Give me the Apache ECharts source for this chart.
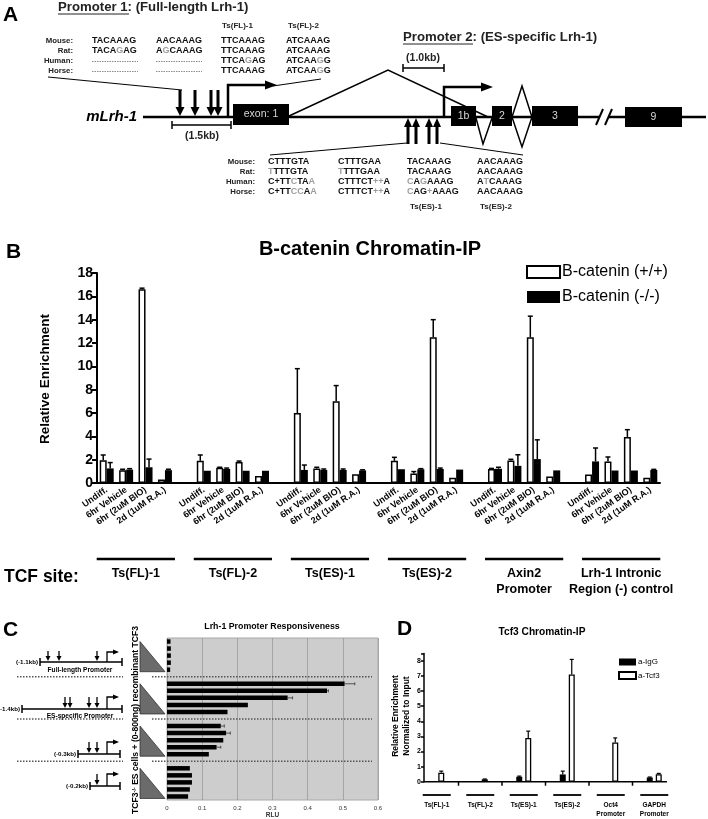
<!DOCTYPE html>
<html><head><meta charset="utf-8">
<script src="https://cdn.jsdelivr.net/npm/echarts/dist/echarts.min.js"></script>
<style>html,body{margin:0;padding:0;background:#fff}#chart{width:708px;height:819px}</style>
</head><body><div id="chart"></div>
<script>
// ---------- Panel B data: B-catenin Chromatin-IP ----------
const bSites = ['Ts(FL)-1', 'Ts(FL)-2', 'Ts(ES)-1', 'Ts(ES)-2', 'Axin2\nPromoter', 'Lrh-1 Intronic\nRegion (-) control'];
const bConditions = ['Undiff.', '6hr Vehicle', '6hr (2uM BIO)', '2d (1uM R.A.)'];
const bWildType    = [1.95, 1.1, 16.6, 0.3,  1.9, 1.3, 1.8, 0.6,   6.0, 1.25, 7.0, 0.75,  1.9, 0.82, 12.5, 0.44,  1.2, 1.93, 12.5, 0.55,  0.72, 1.85, 3.95, 0.44];
const bWildTypeErr = [0.45, 0.08, 0.1, 0,    0.5, 0.05, 0.08, 0,   3.8, 0.1, 1.35, 0,     0.3, 0.16, 1.5, 0,      0.05, 0.1, 1.8, 0,    0, 0.38, 0.62, 0];
const bKnockout    = [1.25, 1.15, 1.35, 1.1, 1.05, 1.2, 1.05, 1.05, 1.12, 1.12, 1.12, 1.08, 1.18, 1.18, 1.2, 1.15, 1.22, 1.47, 2.05, 1.08, 1.85, 1.07, 1.07, 1.12];
const bKnockoutErr = [0.5, 0.08, 0.7, 0.08,  0, 0.08, 0, 0,        0.42, 0.08, 0.08, 0.05, 0, 0.05, 0.08, 0,      0.13, 0.95, 1.65, 0,  1.15, 0, 0, 0.05];
const bYTicks = {min: 0, max: 18, step: 2};

// ---------- Panel C data: Lrh-1 Promoter Responsiveness ----------
const cConstructs = ['(-1.1kb) Full-length Promoter', '(-1.4kb) ES-specific Promoter', '(-0.3kb)', '(-0.2kb)'];
const cDoses = ['dose 1', 'dose 2', 'dose 3', 'dose 4', 'dose 5'];
const cRLU    = [0.010, 0.011, 0.011, 0.011, 0.009,  0.505, 0.455, 0.343, 0.230, 0.172,  0.153, 0.168, 0.160, 0.141, 0.119,  0.065, 0.071, 0.071, 0.065, 0.060];
const cRLUErr = [0, 0, 0, 0, 0,                      0.029, 0.004, 0.014, 0, 0,          0.010, 0.012, 0, 0.012, 0,          0, 0, 0, 0, 0];
const cXTicks = {min: 0, max: 0.6, step: 0.1};

// ---------- Panel D data: Tcf3 Chromatin-IP ----------
const dSites = ['Ts(FL)-1', 'Ts(FL)-2', 'Ts(ES)-1', 'Ts(ES)-2', 'Oct4\nPromoter', 'GAPDH\nPromoter'];
const dIgG     = [0, 0, 0.33, 0.48, 0, 0.28];
const dIgGErr  = [0, 0, 0.04, 0.22, 0, 0.03];
const dTcf3    = [0.6, 0.16, 2.9, 7.1, 2.6, 0.5];
const dTcf3Err = [0.1, 0.02, 0.45, 1.0, 0.3, 0.05];
const dYTicks = {min: 0, max: 8.5, step: 1};

// ---------- helpers ----------
const FAM = "'Liberation Sans', Arial, Helvetica, sans-serif";
const f = (size, weight, style) => `${style || 'normal'} ${weight || 'bold'} ${size}px ${FAM}`;

function withGaps(vals, per, groups) {
  const out = [];
  for (let g = 0; g < groups; g++) {
    for (let k = 0; k < per; k++) out.push(vals[g * per + k]);
    if (g < groups - 1) out.push('-');
  }
  return out;
}
function errData(vals, errs, per, vertical) {
  const out = [];
  vals.forEach((v, i) => {
    const e = errs[i];
    if (!e) return;
    const idx = Math.floor(i / per) * (per + 1) + (i % per);
    out.push(vertical ? [idx, v, e] : [v, idx, e]);
  });
  return out;
}
function vErr(offset, cap, lw) {
  return (params, api) => {
    const i = api.value(0), v = api.value(1), e = api.value(2);
    const b = api.coord([i, v]), t = api.coord([i, v + e]);
    const x = b[0] + offset;
    return {type: 'group', children: [
      {type: 'line', shape: {x1: x, y1: b[1], x2: x, y2: t[1]}, style: {stroke: '#000', lineWidth: lw}},
      {type: 'line', shape: {x1: x - cap / 2, y1: t[1], x2: x + cap / 2, y2: t[1]}, style: {stroke: '#000', lineWidth: lw}}
    ]};
  };
}
function hErr(cap, lw) {
  return (params, api) => {
    const v = api.value(0), i = api.value(1), e = api.value(2);
    const b = api.coord([v, i]), t = api.coord([v + e, i]);
    return {type: 'group', children: [
      {type: 'line', shape: {x1: b[0], y1: b[1], x2: t[0], y2: b[1]}, style: {stroke: '#333', lineWidth: lw}},
      {type: 'line', shape: {x1: t[0], y1: b[1] - cap / 2, x2: t[0], y2: b[1] + cap / 2}, style: {stroke: '#333', lineWidth: lw}}
    ]};
  };
}

// categories
const bCats = [];
bSites.forEach((s, g) => {
  bConditions.forEach(c => bCats.push(g + '|' + c));
  if (g < bSites.length - 1) bCats.push(g + '|');
});
const cCats = [];
cConstructs.forEach((s, g) => {
  cDoses.forEach(d => cCats.push(s + '|' + d));
  if (g < cConstructs.length - 1) cCats.push('gap' + g + '|');
});

const chart = echarts.init(document.getElementById('chart'));
const option = {
  animation: false,
  backgroundColor: '#fff',
  textStyle: {fontFamily: FAM, color: '#000'},
  grid: [
    {left: 97, top: 273, width: 563, height: 210, outerBoundsMode: 'none', containLabel: false},
    {left: 167, top: 638, width: 211, height: 162, show: true, backgroundColor: '#cdcdcd', borderColor: '#a8a8a8', borderWidth: 1, outerBoundsMode: 'none', containLabel: false},
    {left: 415, top: 653.4, width: 261, height: 128.3, outerBoundsMode: 'none', containLabel: false}
  ],
  legend: [
    {data: ['B-catenin (+/+)', 'B-catenin (-/-)'], orient: 'vertical', left: 526, top: 264, padding: 0, icon: 'rect',
     itemWidth: 33, itemHeight: 12, itemGap: 9, textStyle: {fontSize: 16, fontFamily: FAM, color: '#000', padding: [0, 0, 0, -3]}},
    {data: ['a-IgG', 'a-Tcf3'], orient: 'vertical', left: 618, top: 658, padding: 0, icon: 'rect',
     itemWidth: 17, itemHeight: 7, itemGap: 5, textStyle: {fontSize: 8, fontFamily: FAM, color: '#000', padding: [0, 0, 0, -3]}}
  ],
  xAxis: [
    {type: 'category', gridIndex: 0, data: bCats,
     axisLine: {lineStyle: {color: '#000', width: 2}},
     axisTick: {alignWithLabel: true, interval: 0, length: 5, lineStyle: {color: '#000', width: 2}},
     axisLabel: {interval: 0, rotate: 35, margin: 6, fontSize: 9, fontWeight: 'bold', color: '#000', fontFamily: FAM,
                 formatter: v => v.split('|')[1]}},
    {type: 'value', gridIndex: 1, min: cXTicks.min, max: cXTicks.max, interval: cXTicks.step,
     axisLine: {show: false}, axisTick: {show: false},
     axisLabel: {fontSize: 6, color: '#333', margin: 5, fontFamily: FAM, formatter: v => String(+v.toFixed(1))},
     splitLine: {show: true, lineStyle: {color: '#9a9a9a', width: 0.8}},
     name: 'RLU', nameLocation: 'middle', nameGap: 12, nameTextStyle: {fontSize: 6.5, fontWeight: 'bold', color: '#333', fontFamily: FAM}},
    {type: 'category', gridIndex: 2, data: dSites, axisLine: {show: false}, axisTick: {show: false}, axisLabel: {show: false}}
  ],
  yAxis: [
    {type: 'value', gridIndex: 0, min: bYTicks.min, max: bYTicks.max, interval: bYTicks.step,
     axisLine: {show: true, lineStyle: {color: '#000', width: 2}},
     axisTick: {show: true, length: 5, lineStyle: {color: '#000', width: 2}},
     axisLabel: {fontSize: 14, fontWeight: 'bold', color: '#000', margin: 4, fontFamily: FAM},
     splitLine: {show: false}},
    {type: 'category', gridIndex: 1, data: cCats, inverse: true,
     axisLine: {show: false}, axisTick: {show: false}, axisLabel: {show: false}, splitLine: {show: false}},
    {type: 'value', gridIndex: 2, min: dYTicks.min, max: dYTicks.max, interval: dYTicks.step, offset: -9,
     axisLine: {show: true, lineStyle: {color: '#000', width: 1.5}},
     axisTick: {show: true, length: 3, lineStyle: {color: '#000', width: 1.5}},
     axisLabel: {fontSize: 7, fontWeight: 'bold', color: '#000', margin: 3, fontFamily: FAM,
                 formatter: v => (v % 1 ? '' : String(v))},
     splitLine: {show: false}}
  ],
  series: [
    {type: 'bar', name: 'B-catenin (+/+)', xAxisIndex: 0, yAxisIndex: 0, data: withGaps(bWildType, 4, 6),
     barWidth: 7, barGap: '0%', itemStyle: {color: '#fff', borderColor: '#000', borderWidth: 1.5}},
    {type: 'bar', name: 'B-catenin (-/-)', xAxisIndex: 0, yAxisIndex: 0, data: withGaps(bKnockout, 4, 6),
     barWidth: 7, barGap: '0%', itemStyle: {color: '#000', borderColor: '#000', borderWidth: 0}},
    {type: 'custom', xAxisIndex: 0, yAxisIndex: 0, data: errData(bWildType, bWildTypeErr, 4, true),
     encode: {x: 0, y: 1}, renderItem: vErr(-3.5, 5, 1.5), z: 5},
    {type: 'custom', xAxisIndex: 0, yAxisIndex: 0, data: errData(bKnockout, bKnockoutErr, 4, true),
     encode: {x: 0, y: 1}, renderItem: vErr(3.5, 5, 1.5), z: 5},

    {type: 'bar', name: 'RLU', xAxisIndex: 1, yAxisIndex: 1, data: withGaps(cRLU, 5, 4),
     barWidth: 4.5, itemStyle: {color: '#000'}},
    {type: 'custom', xAxisIndex: 1, yAxisIndex: 1, data: errData(cRLU, cRLUErr, 5, false),
     encode: {x: 0, y: 1}, renderItem: hErr(3, 0.8), z: 5},

    {type: 'bar', name: 'a-IgG', xAxisIndex: 2, yAxisIndex: 2, data: dIgG,
     barWidth: 6, barGap: '50%', itemStyle: {color: '#000'}},
    {type: 'bar', name: 'a-Tcf3', xAxisIndex: 2, yAxisIndex: 2, data: dTcf3,
     barWidth: 6, barGap: '50%', itemStyle: {color: '#fff', borderColor: '#000', borderWidth: 1.3}},
    {type: 'custom', xAxisIndex: 2, yAxisIndex: 2, data: dIgG.map((v, i) => [i, v, dIgGErr[i]]).filter(d => d[2]),
     encode: {x: 0, y: 1}, renderItem: vErr(-4.5, 4, 1.2), z: 5},
    {type: 'custom', xAxisIndex: 2, yAxisIndex: 2, data: dTcf3.map((v, i) => [i, v, dTcf3Err[i]]).filter(d => d[2]),
     encode: {x: 0, y: 1}, renderItem: vErr(4.5, 4, 1.2), z: 5}
  ]
};
chart.setOption(option);

// ---------- decorations (diagrams, labels) ----------
const G = [];
const Z = 50;
function ln(x1, y1, x2, y2, w, color, dash) {
  G.push({type: 'line', z: Z, silent: true, shape: {x1, y1, x2, y2}, style: {stroke: color || '#000', lineWidth: w || 1, lineDash: dash || null}});
}
function pl(points, w, color, closed) {
  G.push({type: closed ? 'polygon' : 'polyline', z: Z, silent: true, shape: {points},
          style: {stroke: color || '#000', lineWidth: w || 1, fill: null}});
}
function pg(points, fill, stroke, w) {
  G.push({type: 'polygon', z: Z, silent: true, shape: {points}, style: {fill, stroke: stroke || null, lineWidth: w || 0}});
}
function rc(x, y, w, h, fill) {
  G.push({type: 'rect', z: Z, silent: true, shape: {x, y, width: w, height: h}, style: {fill}});
}
function tx(x, y, text, font, opt) {
  opt = opt || {};
  const st = {text, font, fill: opt.fill || '#000', align: opt.align || 'left', verticalAlign: opt.va || 'middle',
              textAlign: opt.align || 'left', textVerticalAlign: opt.va || 'middle'};
  if (opt.rich) st.rich = opt.rich;
  if (opt.lineHeight) st.lineHeight = opt.lineHeight;
  G.push({type: 'text', z: Z + 1, silent: true, x, y, rotation: opt.rot || 0, style: st});
}
function downArrow(x, y1, y2, w, hw, hh) {
  ln(x, y1, x, y2 - hh + 1, w);
  pg([[x - hw / 2, y2 - hh], [x + hw / 2, y2 - hh], [x, y2]], '#000');
}
function upArrow(x, y1, y2, w, hw, hh) { // y1 bottom, y2 tip (smaller)
  ln(x, y1, x, y2 + hh - 1, w);
  pg([[x - hw / 2, y2 + hh], [x + hw / 2, y2 + hh], [x, y2]], '#000');
}
function bentArrow(x, yb, yt, xe, w, hw, hl) {
  pl([[x, yb], [x, yt], [xe - hl + 1, yt]], w);
  pg([[xe - hl, yt - hw / 2], [xe - hl, yt + hw / 2], [xe, yt]], '#000');
}
function seq(str) {
  let out = '';
  str.split(/(\[[^\]]*\])/).forEach(p => {
    if (!p) return;
    out += p[0] === '[' ? '{g|' + p.slice(1, -1) + '}' : '{n|' + p + '}';
  });
  return out;
}
const SEQF = f(9);
const seqRich = {n: {fill: '#111', font: SEQF}, g: {fill: '#9d9d9d', font: SEQF}};

// ----- Panel A -----
tx(3, 15, 'A', f(21), {});
tx(58, 7, 'Promoter 1: (Full-length Lrh-1)', f(13.2), {fill: '#222'});
ln(58, 14, 129, 14, 1, '#222');
tx(403, 37, 'Promoter 2: (ES-specific Lrh-1)', f(13.2), {fill: '#222'});
ln(403, 44, 473, 44, 1, '#222');

const speciesLbl = ['Mouse:', 'Rat:', 'Human:', 'Horse:'];
const topRows = [41, 51, 61, 71];
const topCols = [92, 156, 221, 286];
const topSeq = [
  ['TACAAAG', 'AACAAAG', 'TTCAAAG', 'ATCAAAG'],
  ['TACA[G]AG', 'A[G]CAAAG', 'TTCAAAG', 'ATCAAAG'],
  [null, null, 'TTCA[G]AG', 'ATCAA[G]G'],
  [null, null, 'TTCAAAG', 'ATCAA[G]G']
];
speciesLbl.forEach((s, r) => {
  tx(73, topRows[r], s, f(7.8), {align: 'right', fill: '#222'});
  topSeq[r].forEach((q, c) => {
    if (q) tx(topCols[c], topRows[r], seq(q), SEQF, {rich: seqRich});
    else ln(topCols[c], topRows[r] + 0.5, topCols[c] + 46, topRows[r] + 0.5, 1, '#8a8a8a', [1.5, 1]);
  });
});
tx(222, 26, 'Ts(FL)-1', f(8), {fill: '#222'});
tx(288, 26, 'Ts(FL)-2', f(8), {fill: '#222'});

const lowRows = [162, 172, 182, 192];
const lowCols = [268, 338, 407, 477];
const lowSeq = [
  ['CTTTGTA', 'CTTTGAA', 'TACAAAG', 'AACAAAG'],
  ['[T]TTTGTA', '[T]TTTGAA', 'TACAAAG', 'AACAAAG'],
  ['C+TT[C]TA[A]', 'CTTTCT[++]A', '[C]A[G]AAAG', 'A[T]CAAAG'],
  ['C+TT[CC]A[A]', 'CTTTCT[++]A', '[C]AG[+]AAAG', 'AACAAAG']
];
speciesLbl.forEach((s, r) => {
  tx(255, lowRows[r], s, f(7.8), {align: 'right', fill: '#222'});
  lowSeq[r].forEach((q, c) => tx(lowCols[c], lowRows[r], seq(q), SEQF, {rich: seqRich}));
});
tx(410, 207, 'Ts(ES)-1', f(8), {fill: '#222'});
tx(480, 207, 'Ts(ES)-2', f(8), {fill: '#222'});

// connector lines
ln(48, 77, 182, 90, 1);
ln(321, 79, 273, 86, 1);
ln(270, 155, 407, 143, 1);
ln(440, 143, 523, 155, 1);
// gene line
ln(143, 117, 599, 117, 2.5);
ln(609, 117, 706, 117, 2.5);
ln(596, 125, 603, 109, 2);
ln(605, 125, 612, 109, 2);
// splicing
pl([[289, 116], [388, 70], [488, 117]], 1.5);
pl([[476, 118], [483, 144], [492, 118]], 1.5);
pl([[512, 117], [522, 86], [532, 117], [522, 147]], 1.5, '#000', true);
// exons
const exons = [[233, 104, 56, 21, 'exon: 1'], [451, 106, 25, 20, '1b'], [492, 106, 20, 20, '2'], [532, 106, 46, 20, '3'], [625, 107, 57, 20, '9']];
exons.forEach(e => { rc(e[0], e[1], e[2], e[3], '#000'); tx(e[0] + e[2] / 2, e[1] + e[3] / 2, e[4], f(10.5, 'normal'), {align: 'center', fill: '#d8d8d8'}); });
// scale bars
ln(172, 125, 231, 125, 1.5); ln(172, 121, 172, 129, 1.5); ln(231, 121, 231, 129, 1.5);
tx(202, 136, '(1.5kb)', f(10.5), {align: 'center', fill: '#222'});
ln(403, 68, 444, 68, 1.5); ln(403, 64, 403, 72, 1.5); ln(444, 64, 444, 72, 1.5);
tx(423, 58, '(1.0kb)', f(10.5), {align: 'center', fill: '#222'});
// arrows
[180, 195, 211, 218].forEach(x => downArrow(x, 90, 116, 3, 9, 9));
bentArrow(228, 117, 85, 277, 2.5, 9, 12);
bentArrow(444, 117, 87, 493, 2.5, 9, 12);
[408, 416, 429, 437].forEach(x => upArrow(x, 144, 118, 3, 8, 9));
tx(137, 117, 'mLrh-1', f(15, 'bold', 'italic'), {align: 'right'});

// ----- Panel B decorations -----
tx(6, 252, 'B', f(21), {});
tx(370, 249, 'B-catenin Chromatin-IP', f(20), {align: 'center'});
tx(45, 379, 'Relative Enrichment', f(13.5), {align: 'center', rot: Math.PI / 2});
tx(4, 577, 'TCF site:', f(17.5), {});
bSites.forEach((s, g) => {
  const a = chart.convertToPixel({xAxisIndex: 0, yAxisIndex: 0}, [g * 5, 0]);
  const b = chart.convertToPixel({xAxisIndex: 0, yAxisIndex: 0}, [g * 5 + 3, 0]);
  ln(a[0] - 10, 559, b[0] + 10, 559, 2.5);
  tx((a[0] + b[0]) / 2, 566, s, f(12.5), {align: 'center', va: 'top', lineHeight: 16});
});

// ----- Panel C decorations -----
tx(3, 630, 'C', f(21), {});
tx(272, 627, 'Lrh-1 Promoter Responsiveness', f(8.8), {align: 'center'});
tx(136, 720, '{b|TCF3}{s|-/-}{b| ES cells + (0-800ng) recombinant TCF3}', f(8.6),
   {align: 'center', rot: Math.PI / 2, rich: {b: {font: f(8.6)}, s: {font: f(5.5), verticalAlign: 'top'}}});
cConstructs.forEach((s, g) => {
  const t = chart.convertToPixel({xAxisIndex: 1, yAxisIndex: 1}, [0, g * 6]);
  const b = chart.convertToPixel({xAxisIndex: 1, yAxisIndex: 1}, [0, g * 6 + 4]);
  pg([[140, t[1]], [140, b[1] + 2], [165, b[1] + 2]], '#6b6b6b', '#333', 0.8);
  if (g < cConstructs.length - 1) {
    const gp = chart.convertToPixel({xAxisIndex: 1, yAxisIndex: 1}, [0, g * 6 + 5]);
    ln(152, gp[1], 372, gp[1], 1.5, '#555', [1.5, 1.5]);
    ln(17, gp[1], 123, gp[1], 1.5, '#555', [1.5, 1.5]);
  }
});
const smallF = f(6.2);
// diagram 1
tx(38, 662, '(-1.1kb)', smallF, {align: 'right'});
ln(40, 662, 122, 662, 1.5); ln(40, 658, 40, 666, 1.5); ln(122, 658, 122, 666, 1.5);
[48, 59, 97].forEach(x => downArrow(x, 651, 661, 1.3, 5, 5));
bentArrow(107, 662, 652, 119, 1.3, 5, 6);
tx(80, 670, 'Full-length Promoter', f(6.6), {align: 'center'});
// diagram 2
tx(20, 709, '(-1.4kb)', smallF, {align: 'right'});
ln(22, 709, 122, 709, 1.5); ln(22, 705, 22, 713, 1.5); ln(122, 705, 122, 713, 1.5);
[65, 70, 89, 97].forEach(x => downArrow(x, 697, 708, 1.3, 5, 5));
bentArrow(107, 709, 697, 119, 1.3, 5, 6);
tx(80, 716, 'ES-specific Promoter', f(6.6), {align: 'center'});
// diagram 3
tx(76, 754, '(-0.3kb)', smallF, {align: 'right'});
ln(78, 754, 120, 754, 1.5); ln(78, 750, 78, 758, 1.5); ln(120, 750, 120, 758, 1.5);
[89, 97].forEach(x => downArrow(x, 742, 753, 1.3, 5, 5));
bentArrow(107, 754, 742, 119, 1.3, 5, 6);
// diagram 4
tx(88, 786, '(-0.2kb)', smallF, {align: 'right'});
ln(90, 786, 120, 786, 1.5); ln(90, 782, 90, 790, 1.5); ln(120, 782, 120, 790, 1.5);
downArrow(97, 774, 785, 1.3, 5, 5);
bentArrow(107, 786, 774, 119, 1.3, 5, 6);

// ----- Panel D decorations -----
tx(397, 629, 'D', f(21), {});
tx(542, 632, 'Tcf3 Chromatin-IP', f(10.2), {align: 'center'});
tx(396, 716, 'Relative Enrichment', f(8.5), {align: 'center', rot: Math.PI / 2});
tx(407, 716, 'Normalized to Input', f(8.5), {align: 'center', rot: Math.PI / 2});
{
  const c0 = dSites.map((s, i) => chart.convertToPixel({xAxisIndex: 2, yAxisIndex: 2}, [i, 0]));
  const y0 = c0[0][1];
  ln(424, y0, 667, y0, 1.5);
  for (let i = 0; i < c0.length - 1; i++) {
    const xm = (c0[i][0] + c0[i + 1][0]) / 2;
    ln(xm, y0, xm, y0 + 4, 1.5);
  }
  dSites.forEach((s, i) => {
    const x = c0[i][0];
    ln(x - 14, 795, x + 14, 795, 1.8);
    tx(x, 800, s, f(6.5), {align: 'center', va: 'top', lineHeight: 9.5});
  });
}

chart.setOption({graphic: {elements: G}});
</script></body></html>
